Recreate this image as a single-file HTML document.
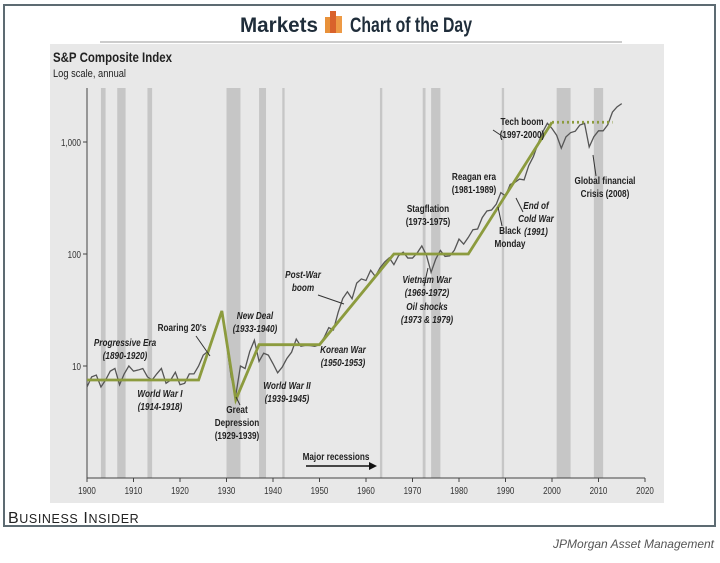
<!DOCTYPE html>
<html><head><meta charset="utf-8"><style>
body{margin:0;background:#fff;width:720px;height:558px;overflow:hidden;font-family:"Liberation Sans Narrow","Liberation Sans",sans-serif}
svg text{font-family:"Liberation Sans Narrow","Liberation Sans",sans-serif}
</style></head><body>
<svg id="c" width="720" height="558" viewBox="0 0 720 558" xmlns="http://www.w3.org/2000/svg">
<rect x="4" y="5" width="711" height="521" fill="#fff" stroke="#5d6b72" stroke-width="2"/>
<text x="240" y="32" textLength="78" lengthAdjust="spacingAndGlyphs" font-size="21" font-weight="bold" fill="#1f2d3a">Markets</text>
<g><rect x="325" y="17" width="6" height="16" fill="#e8913a"/><rect x="330" y="11" width="6" height="22" fill="#d9622b"/><rect x="336" y="16" width="6" height="17" fill="#ee9a45"/></g>
<text x="350" y="32" textLength="122" lengthAdjust="spacingAndGlyphs" font-size="21" font-weight="bold" fill="#1f2d3a">Chart of the Day</text>
<line x1="100" y1="42" x2="622" y2="42" stroke="#ccc" stroke-width="2"/>
<rect x="50" y="44" width="614" height="459" fill="#e8e8e8"/>
<text x="53" y="62" textLength="119" lengthAdjust="spacingAndGlyphs" font-size="14" font-weight="bold" fill="#222">S&amp;P Composite Index</text>
<text x="53" y="77" textLength="73" lengthAdjust="spacingAndGlyphs" font-size="11" fill="#222">Log scale, annual</text>
<g id="bands"></g><g id="axes"></g><g id="series"></g><g id="trend"></g><g id="notes"></g>
<text x="8" y="523" font-size="16" fill="#222" font-family="Liberation Serif,serif" letter-spacing="0.6">B<tspan font-size="12.5">USINESS</tspan> I<tspan font-size="12.5">NSIDER</tspan></text>
<text x="714" y="548" text-anchor="end" font-size="12" font-style="italic" fill="#555" font-family="Liberation Serif,serif">JPMorgan Asset Management</text>
</svg>
<script>
const years=[1900,1901,1902,1903,1904,1905,1906,1907,1908,1909,1910,1911,1912,1913,1914,1915,1916,1917,1918,1919,1920,1921,1922,1923,1924,1925,1926,1927,1928,1929,1930,1931,1932,1933,1934,1935,1936,1937,1938,1939,1940,1941,1942,1943,1944,1945,1946,1947,1948,1949,1950,1951,1952,1953,1954,1955,1956,1957,1958,1959,1960,1961,1962,1963,1964,1965,1966,1967,1968,1969,1970,1971,1972,1973,1974,1975,1976,1977,1978,1979,1980,1981,1982,1983,1984,1985,1986,1987,1988,1989,1990,1991,1992,1993,1994,1995,1996,1997,1998,1999,2000,2001,2002,2003,2004,2005,2006,2007,2008,2009,2010,2011,2012,2013,2014,2015];
const values=[6.5,8,8.3,6.5,7.5,9,9.5,6.8,8.5,10,9,9.2,9.5,8,7.5,8.5,9.5,7,7.5,8.8,6.8,7,8.5,8.5,10,12.5,13.5,17.5,24,30,16,8,5.5,10,9.5,13.5,17,11,13,12.5,10.5,8.7,9.8,11.7,13.3,17.4,15,15.3,15.2,15,15.5,18,22,21,30,40,46,39.9,55,59.9,58,71.6,63,75,84.8,92.4,80.3,96.5,103.9,92,92,102,118,97.5,68.6,90.2,107.5,95.1,96.1,107.9,135.8,122.6,140.6,164.9,167.2,211.3,242.2,247.1,277.7,353.4,330.2,417.1,435.7,466.5,459.3,615.9,740.7,970.4,1229,1469,1320,1148,880,1112,1212,1248,1418,1468,903,1115,1258,1258,1426,1848,2059,2200];
const trendYears=[1900,1924,1929,1932,1937,1950,1966,1982,2000];
const trendValues=[7.5,7.5,31,5,15.5,15.5,100,100,1500];
const plateauYears=[2000,2013];
const plateauValues=[1500,1500];
const recessionStarts=[1903,1906.5,1913,1930,1937,1942,1963,1972.2,1974,1989.2,2001,2009];
const recessionEnds=[1904,1908.3,1914,1933,1938.5,1942.5,1963.5,1972.8,1976,1989.7,2004,2011];
const xTicks=[1900,1910,1920,1930,1940,1950,1960,1970,1980,1990,2000,2010,2020];
const yTicks=[10,100,1000];
const yTickLabels=["10","100","1,000"];

const NS="http://www.w3.org/2000/svg";
const X=y=>87+(y-1900)*4.65;
const Y=v=>142+(3-Math.log10(v))*112;
function mk(tag,attrs,parent){const e=document.createElementNS(NS,tag);for(const k in attrs)e.setAttribute(k,attrs[k]);document.getElementById(parent).appendChild(e);return e;}
const sq=(x,s)=>`translate(${x},0) scale(${s},1) translate(${-x},0)`;

recessionStarts.forEach((s,i)=>{
 const r=mk('rect',{x:X(s),y:88,width:Math.max(1.5,X(recessionEnds[i])-X(s)),height:390,fill:'#c6c6c6'},'bands');
 
 
});
let a=mk('line',{x1:87,y1:88,x2:87,y2:478,stroke:'#444','stroke-width':1},'axes');


a=mk('line',{x1:87,y1:478,x2:X(2020),y2:478,stroke:'#444','stroke-width':1},'axes');


xTicks.forEach(t=>{
 mk('line',{x1:X(t),y1:478,x2:X(t),y2:482,stroke:'#444'},'axes');
 const l=mk('text',{x:X(t),y:494,'text-anchor':'middle','font-size':10,fill:'#333',transform:sq(X(t),0.8)},'axes');
 l.textContent=t;
 
 
});
yTicks.forEach((t,i)=>{
 mk('line',{x1:83,y1:Y(t),x2:87,y2:Y(t),stroke:'#444'},'axes');
 const l=mk('text',{x:81,y:Y(t)+4,'text-anchor':'end','font-size':10,fill:'#333',transform:sq(81,0.8)},'axes');
 l.textContent=yTickLabels[i];
 
 
});
let p=mk('polyline',{points:years.map((y,i)=>X(y)+','+Y(values[i])).join(' '),fill:'none',stroke:'#555','stroke-width':1.3},'series');


p=mk('polyline',{points:trendYears.map((y,i)=>X(y)+','+Y(trendValues[i])).join(' '),fill:'none',stroke:'#8c9b3e','stroke-width':2.8},'trend');


p=mk('polyline',{points:plateauYears.map((y,i)=>X(y)+','+Y(plateauValues[i])).join(' '),fill:'none',stroke:'#8c9b3e','stroke-width':2.8,'stroke-dasharray':'2 3'},'trend');



const notes=[
 ['tech-boom-label',522,125,false,["Tech boom","(1997-2000)"]],
 ['reagan-era-label',474,180,false,["Reagan era","(1981-1989)"]],
 ['stagflation-label',428,212,false,["Stagflation","(1973-1975)"]],
 ['black-monday-label',510,234,false,["Black","Monday"]],
 ['end-cold-war-label',536,209,true,["End of","Cold War","(1991)"]],
 ['gfc-label',605,184,false,["Global financial","Crisis (2008)"]],
 ['vietnam-war-label',427,283,true,["Vietnam War","(1969-1972)"]],
 ['oil-shocks-label',427,310,true,["Oil shocks","(1973 & 1979)"]],
 ['post-war-boom-label',303,278,true,["Post-War","boom"]],
 ['korean-war-label',343,353,true,["Korean War","(1950-1953)"]],
 ['new-deal-label',255,319,true,["New Deal","(1933-1940)"]],
 ['roaring-20s-label',182,331,false,["Roaring 20's"]],
 ['progressive-era-label',125,346,true,["Progressive Era","(1890-1920)"]],
 ['ww1-label',160,397,true,["World War I","(1914-1918)"]],
 ['great-depression-label',237,413,false,["Great","Depression","(1929-1939)"]],
 ['ww2-label',287,389,true,["World War II","(1939-1945)"]],
 ['major-recessions-label',336,460,false,["Major recessions"]]
];
notes.forEach(n=>{
 const t=mk('text',{x:n[1],y:n[2],'text-anchor':'middle','font-size':10.5,'font-weight':'bold',fill:'#222','font-style':n[3]?'italic':'normal',transform:sq(n[1],0.78)},'notes');
 
 
 n[4].forEach((s,i)=>{const ts=document.createElementNS(NS,'tspan');ts.setAttribute('x',n[1]);ts.setAttribute('dy',i?13:0);ts.textContent=s;t.appendChild(ts);});
});
[[318,295,344,304],[196,336,210,356],[498,207,502,226],[523,212,516,198],[596,176,593,155],[424,286,428,268],[240,405,236,397],[493,130,505,138]].forEach(l=>{
 const e=mk('line',{x1:l[0],y1:l[1],x2:l[2],y2:l[3],stroke:'#333','stroke-width':1},'notes');
 
 
});
const ar=mk('line',{x1:306,y1:466,x2:370,y2:466,stroke:'#111','stroke-width':1.5},'notes');


const ah=mk('polygon',{points:'369,462 377,466 369,470',fill:'#111'},'notes');


</script>
</body></html>
